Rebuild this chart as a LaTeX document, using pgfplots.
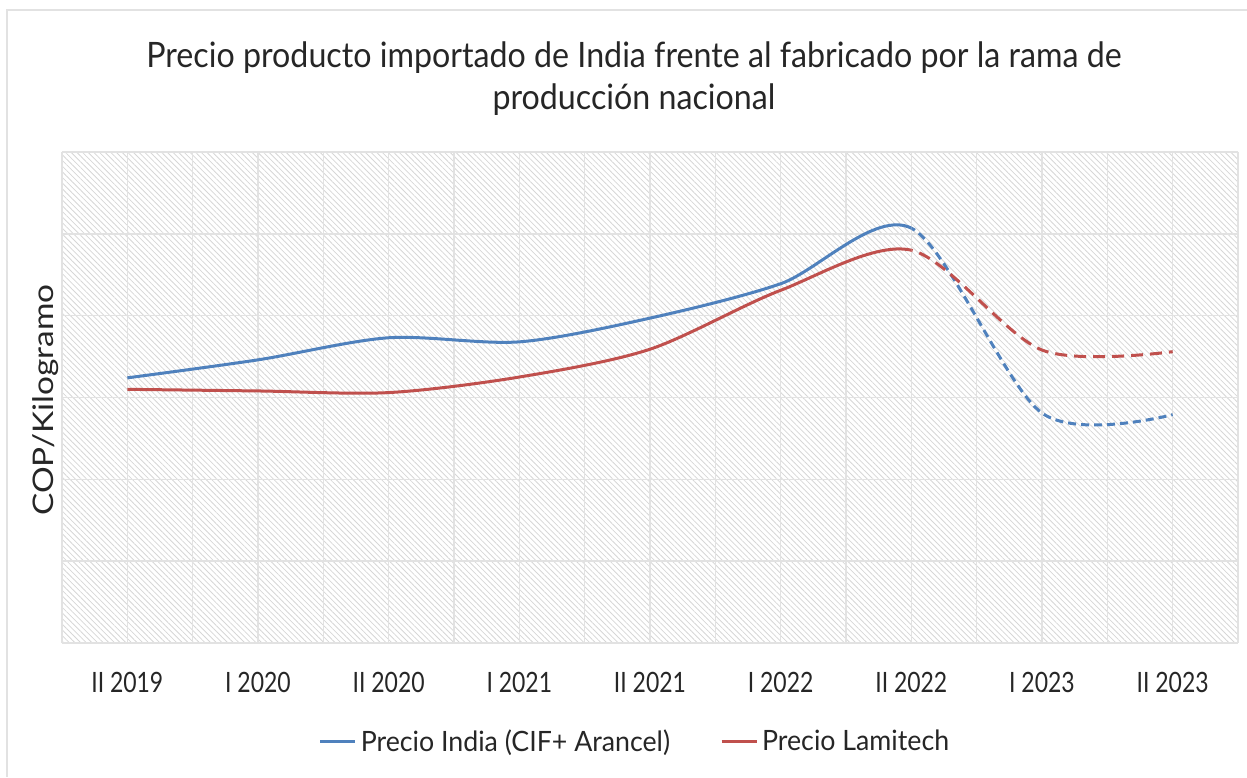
\documentclass[border=0pt]{standalone}
\usepackage{pgfplots}
\pgfplotsset{compat=1.18}
\usepackage{pgfplotstable}
\usepackage{graphicx}
\usetikzlibrary{patterns.meta}
\usepackage{fontspec}
\setmainfont{Lato}[FakeStretch=0.92]
\newfontfamily\ylfont{Lato}
\newfontfamily\tickfont{Lato}[FakeStretch=0.82]
\newfontfamily\legfont{Lato}[FakeStretch=0.955]
\definecolor{cblue}{HTML}{4F81BD}
\definecolor{cred}{HTML}{C0504D}
\definecolor{cgrid}{HTML}{E2E2E2}
\definecolor{ctext}{HTML}{262626}

\pgfplotstableread{
x blue red
0 3.24 3.10
1 3.46 3.08
2 3.73 3.06
3 3.68 3.25
4 3.97 3.59
5 4.39 4.31
6 5.07 4.80
7 2.81 3.58
8 2.79 3.56
}\prices

\begin{document}
\begin{tikzpicture}
\path[use as bounding box] (0,0) rectangle (623.5pt,388.5pt);
\draw[color=cgrid, line width=0.7pt] (3.5pt,0) -- (3.5pt,383.5pt) -- (623.5pt,383.5pt);
\node[anchor=base, text=ctext, font=\fontsize{17.5}{20}\selectfont] at (317pt,354.5pt) {Precio producto importado de India frente al fabricado por la rama de};
\node[anchor=base, text=ctext, font=\fontsize{17.5}{20}\selectfont] at (317pt,333.5pt) {producción nacional};
\node[rotate=90, anchor=center, text=ctext, font=\ylfont\fontsize{16.7}{18}\selectfont] at (23pt,188.5pt) {\scalebox{1}[0.85]{COP/Kilogramo}};
\begin{axis}[
  at={(31pt,67pt)}, anchor=south west,
  width=588pt, height=245.5pt, scale only axis,
  xmin=-0.5, xmax=8.5, ymin=0, ymax=6,
  xtick={0,...,8},
  xticklabels={II 2019, I 2020, II 2020, I 2021, II 2021, I 2022, II 2022, I 2023, II 2023},
  minor xtick={-0.5,0.5,...,8.5},
  ytick={0,...,6}, yticklabels={},
  grid=both,
  major grid style={cgrid, line width=0.7pt},
  minor grid style={cgrid, line width=0.7pt},
  axis line style={draw=none},
  major tick length=0pt, minor tick length=0pt,
  axis background/.style={pattern={Lines[angle=-45,distance=2pt,line width=0.4pt]}, pattern color=gray!32},
  xticklabel style={font=\tickfont\fontsize{14}{16}\selectfont, text=ctext, yshift=-11pt},
  legend style={at={(0.5,-0.2016)}, anchor=center, xshift=-7pt, draw=none, fill=none,
    font=\legfont\fontsize{14}{16}\selectfont, text=ctext,
    /tikz/every even column/.append style={column sep=23pt}},
  legend columns=2,
  legend image code/.code={\draw[#1, line width=1.5pt] (0pt,0pt) -- (17.5pt,0pt);},
]
\addlegendimage{cblue}
\addlegendentry{Precio India (CIF+ Arancel)}
\addlegendimage{cred}
\addlegendentry{Precio Lamitech}
\begin{scope}
\clip (axis cs:-0.5,-1) rectangle (axis cs:6,7);
\addplot[cblue, line width=1.5pt, smooth, tension=0.5, forget plot] table[x=x, y=blue] {\prices};
\addplot[cred, line width=1.5pt, smooth, tension=0.5, forget plot] table[x=x, y=red] {\prices};
\end{scope}
\begin{scope}
\clip (axis cs:6,-1) rectangle (axis cs:8.5,7);
\addplot[cblue, line width=1.5pt, smooth, tension=0.5, dash pattern=on 4pt off 2.5pt, forget plot] table[x=x, y=blue] {\prices};
\addplot[cred, line width=1.5pt, smooth, tension=0.5, dash pattern=on 6pt off 3.5pt, forget plot] table[x=x, y=red] {\prices};
\end{scope}
\end{axis}
\end{tikzpicture}
\end{document}
